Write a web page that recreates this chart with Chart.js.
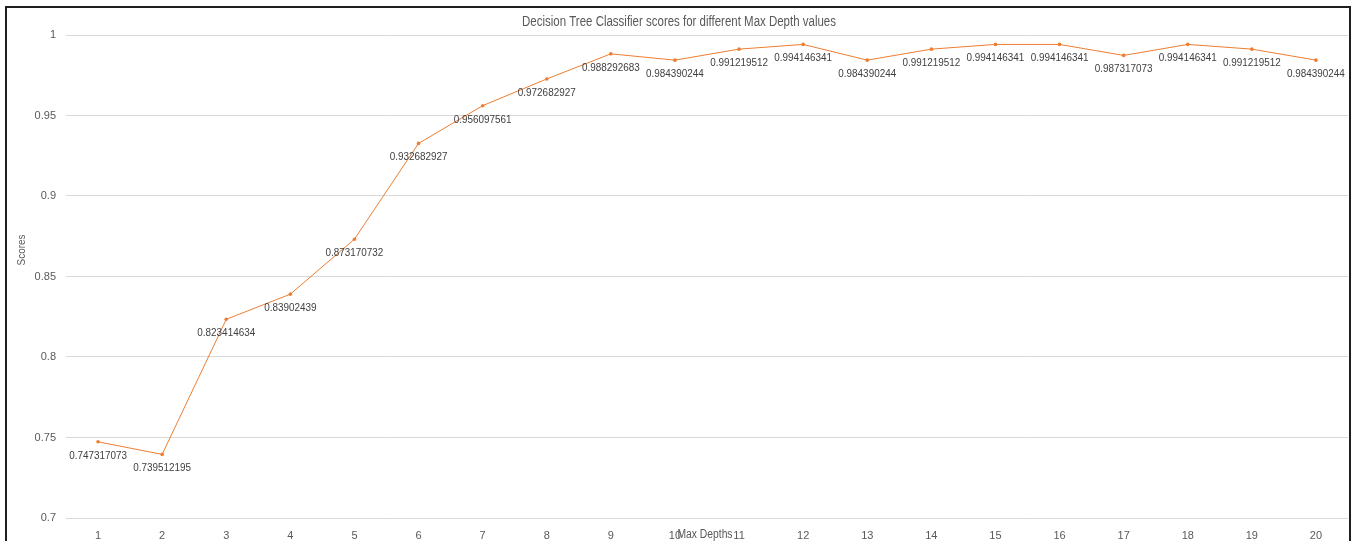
<!DOCTYPE html>
<html>
<head>
<meta charset="utf-8">
<script src="https://cdn.jsdelivr.net/npm/chart.js@4/dist/chart.umd.min.js"></script>
<style>
  html, body { margin: 0; padding: 0; background: #fff; overflow: hidden; width: 1352px; height: 541px; }
  #wrap { position: absolute; left: 0; top: 0; width: 1352px; height: 560px; }
  #frame { position: absolute; left: 5px; top: 6px; width: 1346px; height: 600px; box-sizing: border-box;
           border: 2px solid #1e1e1e; pointer-events: none; }
</style>
</head>
<body>
<div id="wrap"><canvas id="c" width="1352" height="560"></canvas></div>
<div id="frame"></div>
<script>
// Max depth values tried and the resulting classifier scores
const depths = ['1','2','3','4','5','6','7','8','9','10','11','12','13','14','15','16','17','18','19','20'];
const scores = [0.747317073, 0.739512195, 0.823414634, 0.83902439, 0.873170732, 0.932682927, 0.956097561,
                0.972682927, 0.988292683, 0.984390244, 0.991219512, 0.994146341, 0.984390244, 0.991219512,
                0.994146341, 0.994146341, 0.987317073, 0.994146341, 0.991219512, 0.984390244];
const yTicks = [0.7, 0.75, 0.8, 0.85, 0.9, 0.95, 1];

const chartTitle = 'Decision Tree Classifier scores for different Max Depth values';
const xTitle = 'Max Depths';
const yTitle = 'Scores';

const FONT = '"Liberation Sans", Arial, sans-serif';

// Draw text squeezed horizontally by a factor, to get a narrow face
function narrowText(ctx, text, x, y, squeeze) {
  ctx.save();
  ctx.translate(x, y);
  ctx.scale(squeeze, 1);
  ctx.fillText(text, 0, 0);
  ctx.restore();
}

// Value labels under each point, plus the titles laid out like the spreadsheet chart
const annotate = {
  id: 'annotate',
  afterDatasetsDraw(chart) {
    const ctx = chart.ctx;
    const meta = chart.getDatasetMeta(0);
    ctx.save();
    ctx.font = '11px ' + FONT;
    ctx.fillStyle = '#404040';
    ctx.textAlign = 'center';
    ctx.textBaseline = 'middle';
    meta.data.forEach((pt, i) => {
      narrowText(ctx, String(chart.data.datasets[0].data[i]), pt.x, pt.y + 14, 0.9);
    });
    ctx.restore();
  },
  afterDraw(chart) {
    const ctx = chart.ctx;
    const area = chart.chartArea;
    ctx.save();
    ctx.fillStyle = '#595959';
    ctx.textBaseline = 'middle';
    ctx.textAlign = 'center';
    ctx.font = '14px ' + FONT;
    narrowText(ctx, chartTitle, 679, 22, 0.82);
    ctx.font = '12px ' + FONT;
    narrowText(ctx, xTitle, (area.left + area.right) / 2 - 2, 535, 0.86);
    ctx.translate(22, 250);
    ctx.rotate(-Math.PI / 2);
    ctx.font = '11px ' + FONT;
    narrowText(ctx, yTitle, 0, 0, 0.9);
    ctx.restore();
  }
};

new Chart(document.getElementById('c'), {
  type: 'line',
  data: {
    labels: depths,
    datasets: [{
      data: scores,
      borderColor: '#ED7D31',
      backgroundColor: '#ED7D31',
      borderWidth: 1,
      pointRadius: 1.8,
      pointBorderWidth: 0,
      pointBackgroundColor: '#ED7D31',
      tension: 0
    }]
  },
  options: {
    responsive: false,
    animation: false,
    layout: { padding: { top: 35, left: 0, right: 0, bottom: 0 } },
    plugins: { legend: { display: false }, title: { display: false }, tooltip: { enabled: false } },
    scales: {
      x: {
        offset: true,
        grid: { display: false, drawTicks: false },
        border: { display: false },
        ticks: { color: '#595959', font: { family: FONT, size: 11 }, padding: 11, maxRotation: 0, autoSkip: false },
        afterFit(scale) { scale.height = 42; }
      },
      y: {
        min: 0.7,
        max: 1,
        afterBuildTicks(scale) { scale.ticks = yTicks.map(v => ({ value: v })); },
        grid: { color: '#d9d9d9', lineWidth: 1, drawTicks: false },
        border: { display: false },
        ticks: { color: '#595959', font: { family: FONT, size: 11 }, padding: 10,
                 callback: v => String(v) },
        afterFit(scale) { scale.width = 66; }
      }
    }
  },
  plugins: [annotate]
});
</script>
</body>
</html>
